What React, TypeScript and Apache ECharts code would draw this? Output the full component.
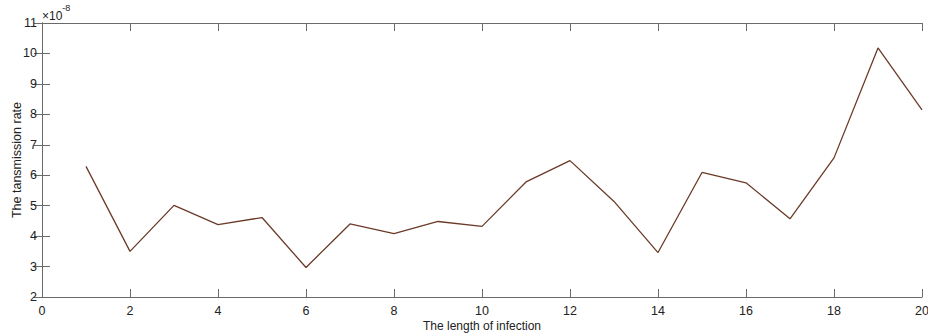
import React, { useEffect, useRef } from "react";
import * as echarts from "echarts";

const lengths = [1, 2, 3, 4, 5, 6, 7, 8, 9, 10, 11, 12, 13, 14, 15, 16, 17, 18, 19, 20];
const rates = [6.29, 3.5, 5.01, 4.38, 4.61, 2.97, 4.4, 4.08, 4.48, 4.32, 5.78, 6.48, 5.14, 3.46, 6.09, 5.75, 4.57, 6.57, 10.18, 8.15];
const xTicks = { min: 0, max: 20, interval: 2 };
const yTicks = { min: 2, max: 11, interval: 1 };

const FONT = "Liberation Sans, Arial, Helvetica, sans-serif";
const AXIS_COLOR = "#6a6a6a";

export default function App() {
  const ref = useRef<HTMLDivElement>(null);
  useEffect(() => {
    document.body.style.margin = "0";
    const chart = echarts.init(ref.current!, null, { renderer: "svg" });
    const axisLine = { show: true, lineStyle: { color: AXIS_COLOR, width: 1 } };
    const axisTick = { show: true, inside: true, length: 8, lineStyle: { color: AXIS_COLOR, width: 1 } };
    chart.setOption({
      animation: false,
      backgroundColor: "#ffffff",
      grid: { left: 42, right: 6, top: 23, bottom: 37, containLabel: false, outerBoundsMode: "none" },
      graphic: [
        {
          type: "text",
          left: 42,
          top: 3,
          style: {
            text: "{a|×10}{b|-8}",
            rich: {
              a: { fontFamily: FONT, fontSize: 12, fill: "#222", verticalAlign: "bottom", padding: [7, 0, 0, 0] },
              b: { fontFamily: FONT, fontSize: 9, fill: "#222", verticalAlign: "top" },
            },
          },
        },
      ],
      xAxis: [
        {
          type: "value",
          min: xTicks.min,
          max: xTicks.max,
          interval: xTicks.interval,
          name: "The length of infection",
          nameLocation: "middle",
          nameGap: 23,
          nameMoveOverlap: false,
          nameTextStyle: { fontFamily: FONT, fontSize: 12, color: "#222" },
          axisLine,
          axisTick,
          splitLine: { show: false },
          axisLabel: { fontFamily: FONT, fontSize: 12.5, color: "#222", margin: 7 },
        },
        {
          type: "value",
          position: "top",
          min: xTicks.min,
          max: xTicks.max,
          interval: xTicks.interval,
          axisLine,
          axisTick,
          splitLine: { show: false },
          axisLabel: { show: false },
        },
      ],
      yAxis: [
        {
          type: "value",
          min: yTicks.min,
          max: yTicks.max,
          interval: yTicks.interval,
          name: "The tansmission rate",
          nameLocation: "middle",
          nameGap: 19,
          nameMoveOverlap: false,
          nameTextStyle: { fontFamily: FONT, fontSize: 12.5, color: "#222" },
          axisLine,
          axisTick,
          splitLine: { show: false },
          axisLabel: { fontFamily: FONT, fontSize: 12.5, color: "#222", margin: 5 },
        },
        {
          type: "value",
          position: "right",
          min: yTicks.min,
          max: yTicks.max,
          interval: yTicks.interval,
          axisLine,
          axisTick,
          splitLine: { show: false },
          axisLabel: { show: false },
        },
      ],
      series: [
        {
          type: "line",
          data: lengths.map((x, i) => [x, rates[i]]),
          showSymbol: false,
          symbol: "none",
          lineStyle: { color: "#6b3a28", width: 1.3 },
        },
      ],
    });
    return () => chart.dispose();
  }, []);
  return <div ref={ref} style={{ width: 928, height: 334 }} />;
}
